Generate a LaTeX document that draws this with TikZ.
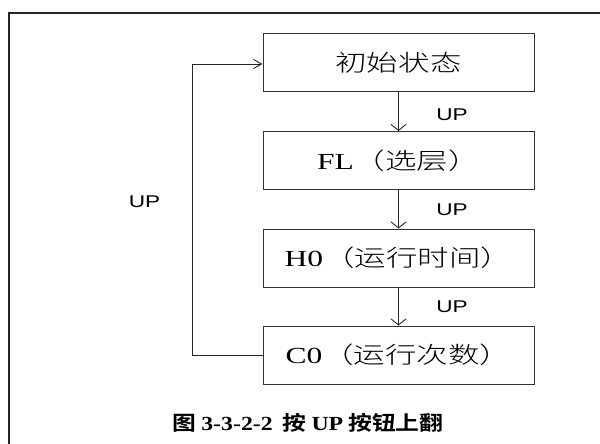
\documentclass[tikz,border=0pt]{standalone}
\usepackage{fontspec}
\usetikzlibrary{arrows.meta}
\setmainfont{Liberation Serif}
\newfontfamily\cjkw{Noto Sans CJK SC Light}[FakeStretch=1.37]
\newfontfamily\serifw{Liberation Serif}[FakeStretch=1.37]
\newfontfamily\arial{Liberation Sans}[FakeStretch=1.33]
\newfontfamily\capcjk{Noto Sans CJK SC Bold}[FakeStretch=1.19]
\newfontfamily\capser{Liberation Serif Bold}[FakeStretch=1.19]
\tikzset{
  statebox/.style={draw=black!80, line width=1pt, minimum width=271pt, minimum height=58pt, inner sep=0pt,
    font=\fontsize{23}{25}\selectfont},
  conn/.style={draw=black!85, line width=0.9pt, -{Straight Barb[length=6pt,width=15pt]}},
  hconn/.style={draw=black!85, line width=0.9pt, -{Straight Barb[length=8pt,width=9pt]}},
  uplabel/.style={font=\arial\fontsize{17}{18}\selectfont, inner sep=0pt},
}
\begin{document}
\begin{tikzpicture}[x=1pt,y=-1pt]
\useasboundingbox (0,0) rectangle (600,444);
\fill[white] (0,0) rectangle (600,444);
\draw[line width=2pt, black!85] (8.5,444) -- (8.5,13) -- (600,13);

\node[statebox] (s0) at (398.5,63) {\cjkw 初始状态};
\node[statebox] (s1) at (398.5,160.5) {{\serifw FL}{\cjkw （选层）}};
\node[statebox] (s2) at (398.5,258) {{\serifw H0}{\cjkw （运行时间）}};
\node[statebox] (s3) at (398.5,355) {{\serifw C0}{\cjkw （运行次数）}};

\draw[conn] (s0) -- (s1);
\draw[conn] (s1) -- (s2);
\draw[conn] (s2) -- (s3);
\coordinate (lb) at (192,355);
\coordinate (lt) at (192,64);
\draw[hconn] (s3.west) -- (lb) -- (lt) -- (s0.west |- lt);

\node[uplabel] (u1) at (452,115) {UP};
\node[uplabel] (u2) at (452,210) {UP};
\node[uplabel] (u3) at (452,307) {UP};
\node[uplabel] (u4) at (144.5,202) {UP};

\node[font=\fontsize{20}{21}\selectfont, inner sep=0pt] (cap) at (308,423)
  {{\capcjk 图} {\capser 3-3-2-2}\ \ {\capcjk 按} {\capser UP} {\capcjk 按钮上翻}};
\end{tikzpicture}
\end{document}
